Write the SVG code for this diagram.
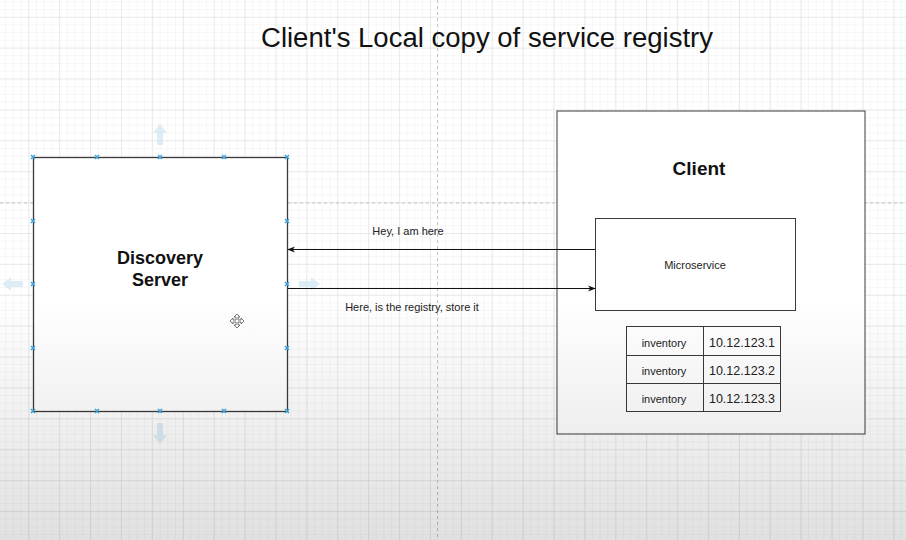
<svg xmlns="http://www.w3.org/2000/svg" width="906" height="540" viewBox="0 0 906 540">
<style>
.box{fill:#ffffff;stroke:#3a3a3a;stroke-width:1.3}
.thin{fill:#ffffff;stroke:#3a3a3a;stroke-width:1}
.bold{font-family:"Liberation Sans",Arial,sans-serif;font-weight:bold;fill:#111;text-anchor:middle}
.lbl{font-family:"Liberation Sans",Arial,sans-serif;fill:#222;text-anchor:middle}
.conn{stroke:#111;stroke-width:1;fill:none}
.hdl{stroke:#3fa6dc;stroke-width:1.5}
.ghost{fill:#cfe6f2;opacity:0.7}
</style>
<defs>
<pattern id="minor" x="28.3" y="16.7" width="7.72" height="7.72" patternUnits="userSpaceOnUse">
<path d="M0 0H7.72M0 0V7.72" stroke="#efefef" stroke-width="1" fill="none"/>
</pattern>
<pattern id="major" x="28.3" y="16.7" width="30.9" height="30.9" patternUnits="userSpaceOnUse">
<path d="M0 0H30.9M0 0V30.9" stroke="#dcdcdc" stroke-width="1" fill="none"/>
</pattern>
<marker id="arr" viewBox="0 0 10 10" refX="9" refY="5" markerWidth="8" markerHeight="8" markerUnits="userSpaceOnUse" orient="auto">
<path d="M0 1L10 5L0 9L3 5Z" fill="#111"/>
</marker>
<linearGradient id="fade" x1="0" y1="0" x2="0" y2="1">
<stop offset="0" stop-color="#000" stop-opacity="0"/>
<stop offset="1" stop-color="#000" stop-opacity="0.12"/>
</linearGradient>
</defs>
<rect width="906" height="540" fill="#ffffff"/>
<rect width="906" height="540" fill="url(#minor)"/>
<rect width="906" height="540" fill="url(#major)"/>
<line x1="437.5" y1="0" x2="437.5" y2="540" stroke="#c4c4c4" stroke-dasharray="3 3"/>
<line x1="0" y1="203" x2="906" y2="203" stroke="#c4c4c4" stroke-dasharray="3 3"/>

<text x="487" y="47" font-family="'Liberation Sans',Arial,sans-serif" font-size="27" fill="#111" text-anchor="middle" textLength="452" lengthAdjust="spacingAndGlyphs">Client's Local copy of service registry</text>

<g id="hover-arrows">
<path class="ghost" d="M160 124l-7 9h4v12h6v-12h4z"/>
<path class="ghost" d="M160 444l-7 -9h4v-12h6v12h4z"/>
<path class="ghost" d="M2 284l9 -7v4h12v6h-12v4z"/>
<path class="ghost" d="M320 284l-9 -7v4h-12v6h12v4z"/>
</g>

<g id="discovery-server">
<rect class="box" x="33.5" y="157.5" width="254" height="254"/>
<text class="bold" x="160" y="264" font-size="18">Discovery</text>
<text class="bold" x="160" y="286" font-size="18">Server</text>
</g>

<g id="client">
<rect class="thin" x="557" y="111" width="308" height="323"/>
<text class="bold" x="699" y="175" font-size="19">Client</text>
</g>

<g id="microservice">
<rect class="thin" x="595.5" y="218.5" width="200" height="92"/>
<text class="lbl" x="695" y="269" font-size="11">Microservice</text>
</g>

<g id="registry-table">
<rect class="thin" x="626.5" y="326.5" width="154" height="85"/>
<line x1="703.5" y1="326.5" x2="703.5" y2="411.5" stroke="#3a3a3a"/>
<line x1="626.5" y1="355.5" x2="780.5" y2="355.5" stroke="#3a3a3a"/>
<line x1="626.5" y1="383.5" x2="780.5" y2="383.5" stroke="#3a3a3a"/>
<text class="lbl" x="664" y="347" font-size="11">inventory</text>
<text class="lbl" x="664" y="375" font-size="11">inventory</text>
<text class="lbl" x="664" y="403" font-size="11">inventory</text>
<text class="lbl" x="742" y="347" font-size="12.5">10.12.123.1</text>
<text class="lbl" x="742" y="375" font-size="12.5">10.12.123.2</text>
<text class="lbl" x="742" y="403" font-size="12.5">10.12.123.3</text>
</g>

<g id="connectors">
<line class="conn" x1="595" y1="249.5" x2="288" y2="249.5" marker-end="url(#arr)"/>
<line class="conn" x1="288" y1="288.5" x2="595" y2="288.5" marker-end="url(#arr)"/>
<text class="lbl" x="408" y="235" font-size="11">Hey, I am here</text>
<text class="lbl" x="412" y="311" font-size="11">Here, is the registry, store it</text>
</g>

<g id="handles">
<path class="hdl" d="M31 155l4 4M35 155l-4 4 M95 155l4 4M99 155l-4 4 M158 155l4 4M162 155l-4 4 M222 155l4 4M226 155l-4 4 M285 155l4 4M289 155l-4 4
M31 409l4 4M35 409l-4 4 M95 409l4 4M99 409l-4 4 M158 409l4 4M162 409l-4 4 M222 409l4 4M226 409l-4 4 M285 409l4 4M289 409l-4 4
M31 219l4 4M35 219l-4 4 M31 282l4 4M35 282l-4 4 M31 346l4 4M35 346l-4 4
M285 219l4 4M289 219l-4 4 M285 282l4 4M289 282l-4 4 M285 346l4 4M289 346l-4 4"/>
</g>

<g id="cursor" fill="#fff" stroke="#555" stroke-width="0.8">
<path d="M237 314l3 3h-2v3h3v-2l3 3-3 3v-2h-3v3h2l-3 3-3-3h2v-3h-3v2l-3-3 3-3v2h3v-3h-2z"/>
</g>

<rect x="0" y="300" width="906" height="240" fill="url(#fade)"/>
</svg>
